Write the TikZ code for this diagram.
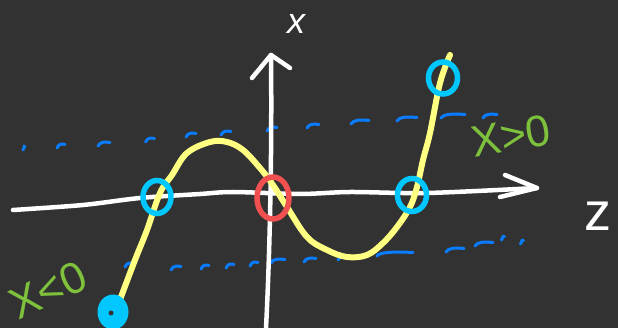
\documentclass[tikz,border=0pt]{standalone}
\usepackage{fontspec}
\setmainfont{Liberation Sans}
\definecolor{bg}{HTML}{323232}
\definecolor{curvey}{HTML}{FFFF82}
\definecolor{ringc}{HTML}{00C8FF}
\definecolor{ringr}{HTML}{F0504F}
\definecolor{dashb}{HTML}{0A7CFF}
\definecolor{labg}{HTML}{7DC13C}
\tikzset{
  axisline/.style={draw=white, line width=4.5pt, line cap=round, line join=round},
  curveline/.style={draw=curvey, line width=6pt, line cap=round},
  ringblue/.style={draw=ringc, line width=5.5pt, ellipse},
  ringred/.style={draw=ringr, line width=5.5pt, ellipse},
  dashmark/.style={draw=dashb, line width=3pt, line cap=round},
  greenlab/.style={text=labg, font=\fontsize{44}{44}\selectfont, inner sep=0pt},
  whitelab/.style={text=white, inner sep=0pt}
}
\usetikzlibrary{shapes.geometric}
\begin{document}
\begin{tikzpicture}[x=1pt,y=-1pt]
\fill[bg] (0,0) rectangle (618,328);
\useasboundingbox (0,0) rectangle (618,328);

% dashed bounds
\foreach \x/\y/\l in {24/147/2, 61/145/8, 104/143/12, 150/139/9, 191/134/10, 226/132/10, 272/128/10, 313/125/12, 360/121/18, 407/118/20, 453/115/24, 490/115/14}
  \draw[dashmark] (\x-\l/2,\y+3) .. controls (\x-\l/2+2,\y-1) and (\x,\y-1.5) .. (\x+\l/2,\y-0.5);
\foreach \x/\y/\l in {129/264/8, 176/267/10, 205/266/8, 230/265/8, 254/263/8, 278/260/14, 310/259/12, 344/257/12, 395/253/36, 455/249/18, 484/243/18, 503/237/3, 522/241/3}
  \draw[dashmark] (\x-\l/2,\y+3) .. controls (\x-\l/2+2,\y-1) and (\x,\y-1.5) .. (\x+\l/2,\y-0.5);

% axes
\coordinate (zl) at (13,210);
\coordinate (zr) at (537,188);
\coordinate (xb) at (266,328);
\coordinate (xt) at (271,55);
\draw[axisline] plot[smooth] coordinates {(zl) (83,205) (140,198) (200,194) (233,192) (300,194) (350,192) (427,193) (zr)};
\draw[axisline] (505,175) -- (zr) -- (500,197);
\draw[axisline] (xb) .. controls (270,250) and (272,150) .. (xt);
\draw[axisline] (252,78) -- (xt) -- (290,68);

% curve
\draw[curveline] plot[smooth, tension=0.6] coordinates {(118,305) (135,260) (147,230) (160,193) (172,175) (187,153) (210,142) (227,142) (243,150) (260,168) (273,185) (287,207) (307,237) (327,250) (347,257) (367,255) (383,243) (397,227) (410,207) (417,187) (423,160) (430,133) (440,83) (450,55)};

% rings
\node[ringblue, minimum width=28pt, minimum height=33pt] (r1) at (157,197) {};
\node[ringred, minimum width=32pt, minimum height=42pt] (r0) at (273,198) {};
\node[ringblue, minimum width=29pt, minimum height=33pt] (r2) at (412,195) {};
\node[ringblue, minimum width=29pt, minimum height=32pt] (r3) at (443,78) {};
\node[fill=ringc, ellipse, minimum width=31pt, minimum height=35pt, inner sep=0pt] (r4) at (113,312) {};
\fill[bg] (111,313) circle (2.5);

% labels
\node[whitelab, font=\itshape\fontsize{36}{36}\selectfont] (lx) at (296,24) {x};
\node[whitelab, font=\fontsize{54}{54}\selectfont] (lz) at (598,216) {z};
\node[greenlab, rotate=10] (lpos) at (511,136) {X>0};
\node[greenlab, rotate=25] (lneg) at (48,290) {X<0};
\end{tikzpicture}
\end{document}
